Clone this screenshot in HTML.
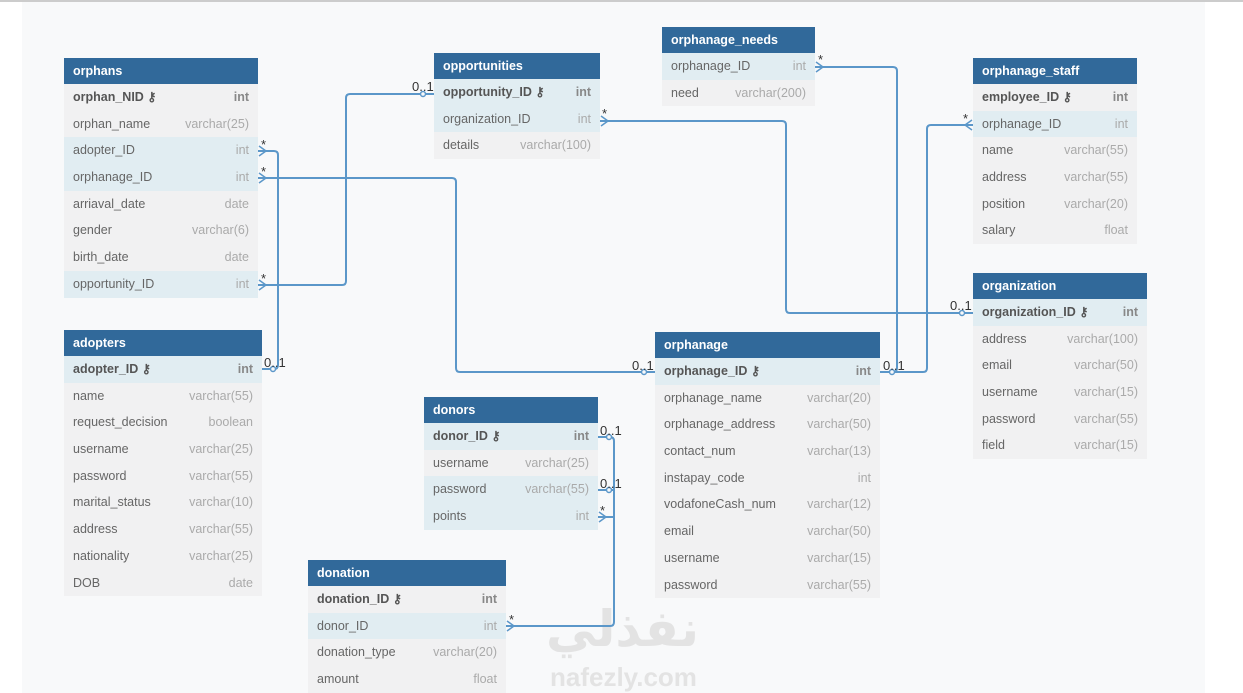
<!DOCTYPE html>
<html><head><meta charset="utf-8"><style>
body{margin:0;width:1243px;height:693px;background:#fff;position:relative;overflow:hidden;font-family:"Liberation Sans",sans-serif}
#top{position:absolute;left:0;top:0;width:1243px;height:2px;background:#ccc}
#cv{position:absolute;left:22px;top:2px;width:1183px;height:691px;background:#f8f9fa}
.t{position:absolute;font-size:12.5px}
.h{height:26px;background:#31699a;color:#fff;font-weight:bold;line-height:26px;padding-left:9px}
.r{height:26.7px;line-height:26.7px;background:#f1f1f2;color:#666;padding:0 9px;display:flex;justify-content:space-between}
.r span:last-child{color:#aaa}
.r.k{font-weight:bold;color:#555}.r.k span:last-child{color:#888}
.r.hl{background:#e1edf2}
svg{position:absolute;left:0;top:0}
.wm{position:absolute;color:#e3e3e3;font-weight:bold}
</style></head><body>
<div id="top"></div><div id="cv"></div>
<div class="wm" style="left:546px;top:600px;font-size:50px;font-family:'DejaVu Sans',sans-serif">نفذلي</div>
<div class="wm" style="left:550px;top:662px;font-size:26px">nafezly.com</div>

<div class="t" style="left:64px;top:58px;width:194px">
<div class="h">orphans</div>
<div class="r k"><span>orphan_NID ⚷</span><span>int</span></div>
<div class="r"><span>orphan_name</span><span>varchar(25)</span></div>
<div class="r hl"><span>adopter_ID</span><span>int</span></div>
<div class="r hl"><span>orphanage_ID</span><span>int</span></div>
<div class="r"><span>arriaval_date</span><span>date</span></div>
<div class="r"><span>gender</span><span>varchar(6)</span></div>
<div class="r"><span>birth_date</span><span>date</span></div>
<div class="r hl"><span>opportunity_ID</span><span>int</span></div>
</div>

<div class="t" style="left:434px;top:53px;width:166px">
<div class="h">opportunities</div>
<div class="r k hl"><span>opportunity_ID ⚷</span><span>int</span></div>
<div class="r hl"><span>organization_ID</span><span>int</span></div>
<div class="r"><span>details</span><span>varchar(100)</span></div>
</div>

<div class="t" style="left:662px;top:27px;width:153px">
<div class="h">orphanage_needs</div>
<div class="r hl"><span>orphanage_ID</span><span>int</span></div>
<div class="r"><span>need</span><span>varchar(200)</span></div>
</div>

<div class="t" style="left:973px;top:58px;width:164px">
<div class="h">orphanage_staff</div>
<div class="r k"><span>employee_ID ⚷</span><span>int</span></div>
<div class="r hl"><span>orphanage_ID</span><span>int</span></div>
<div class="r"><span>name</span><span>varchar(55)</span></div>
<div class="r"><span>address</span><span>varchar(55)</span></div>
<div class="r"><span>position</span><span>varchar(20)</span></div>
<div class="r"><span>salary</span><span>float</span></div>
</div>

<div class="t" style="left:973px;top:273px;width:174px">
<div class="h">organization</div>
<div class="r k hl"><span>organization_ID ⚷</span><span>int</span></div>
<div class="r"><span>address</span><span>varchar(100)</span></div>
<div class="r"><span>email</span><span>varchar(50)</span></div>
<div class="r"><span>username</span><span>varchar(15)</span></div>
<div class="r"><span>password</span><span>varchar(55)</span></div>
<div class="r"><span>field</span><span>varchar(15)</span></div>
</div>

<div class="t" style="left:655px;top:332px;width:225px">
<div class="h">orphanage</div>
<div class="r k hl"><span>orphanage_ID ⚷</span><span>int</span></div>
<div class="r"><span>orphanage_name</span><span>varchar(20)</span></div>
<div class="r"><span>orphanage_address</span><span>varchar(50)</span></div>
<div class="r"><span>contact_num</span><span>varchar(13)</span></div>
<div class="r"><span>instapay_code</span><span>int</span></div>
<div class="r"><span>vodafoneCash_num</span><span>varchar(12)</span></div>
<div class="r"><span>email</span><span>varchar(50)</span></div>
<div class="r"><span>username</span><span>varchar(15)</span></div>
<div class="r"><span>password</span><span>varchar(55)</span></div>
</div>

<div class="t" style="left:64px;top:330px;width:198px">
<div class="h">adopters</div>
<div class="r k hl"><span>adopter_ID ⚷</span><span>int</span></div>
<div class="r"><span>name</span><span>varchar(55)</span></div>
<div class="r"><span>request_decision</span><span>boolean</span></div>
<div class="r"><span>username</span><span>varchar(25)</span></div>
<div class="r"><span>password</span><span>varchar(55)</span></div>
<div class="r"><span>marital_status</span><span>varchar(10)</span></div>
<div class="r"><span>address</span><span>varchar(55)</span></div>
<div class="r"><span>nationality</span><span>varchar(25)</span></div>
<div class="r"><span>DOB</span><span>date</span></div>
</div>

<div class="t" style="left:424px;top:397px;width:174px">
<div class="h">donors</div>
<div class="r k hl"><span>donor_ID ⚷</span><span>int</span></div>
<div class="r"><span>username</span><span>varchar(25)</span></div>
<div class="r hl"><span>password</span><span>varchar(55)</span></div>
<div class="r hl"><span>points</span><span>int</span></div>
</div>

<div class="t" style="left:308px;top:560px;width:198px">
<div class="h">donation</div>
<div class="r k"><span>donation_ID ⚷</span><span>int</span></div>
<div class="r hl"><span>donor_ID</span><span>int</span></div>
<div class="r"><span>donation_type</span><span>varchar(20)</span></div>
<div class="r"><span>amount</span><span>float</span></div>
</div>

<svg width="1243" height="693" viewBox="0 0 1243 693" fill="none" stroke="#5b97c9" stroke-width="2" font-family="Liberation Sans, sans-serif" font-size="13">
<path d="M258 151H274q4 0 4 4V365q0 4-4 4H262"/>
<path d="M258 178H452q4 0 4 4V368q0 4 4 4H655"/>
<path d="M258 285H342q4 0 4-4V98q0-4 4-4H434"/>
<path d="M600 121H782q4 0 4 4V309q0 4 4 4H973"/>
<path d="M815 67H893q4 0 4 4V368q0 4-4 4H880"/>
<path d="M973 125H931q-4 0-4 4V368q0 4-4 4H880"/>
<path d="M598 437H610q4 0 4 4V622q0 4-4 4H506"/>
<path d="M598 490H614M598 517H614"/>
<g stroke-width="1.5">
<path d="M259 146L266 151L259 156M259 173L266 178L259 183M259 280L266 285L259 290M601 116L608 121L601 126M816 62L823 67L816 72M972 120L965 125L972 130M507 621L514 626L507 631M599 512L606 517L599 522"/>
</g>
<g fill="#f8f9fa" stroke-width="1.5">
<circle cx="273" cy="369" r="2.5"/><circle cx="644" cy="372" r="2.5"/><circle cx="423" cy="94" r="2.5"/>
<circle cx="962" cy="313" r="2.5"/><circle cx="892" cy="372" r="2.5"/><circle cx="609" cy="437" r="2.5"/><circle cx="609" cy="490" r="2.5"/>
</g>
<g fill="#333" stroke="none">
<text x="261" y="149">*</text><text x="261" y="176">*</text><text x="261" y="283">*</text>
<text x="264" y="367">0..1</text><text x="632" y="370">0..1</text><text x="412" y="91">0..1</text>
<text x="602" y="118">*</text><text x="818" y="64">*</text><text x="963" y="123">*</text>
<text x="950" y="310">0..1</text><text x="883" y="370">0..1</text>
<text x="600" y="435">0..1</text><text x="600" y="488">0..1</text><text x="600" y="515">*</text><text x="509" y="624">*</text>
</g>
</svg>
</body></html>
